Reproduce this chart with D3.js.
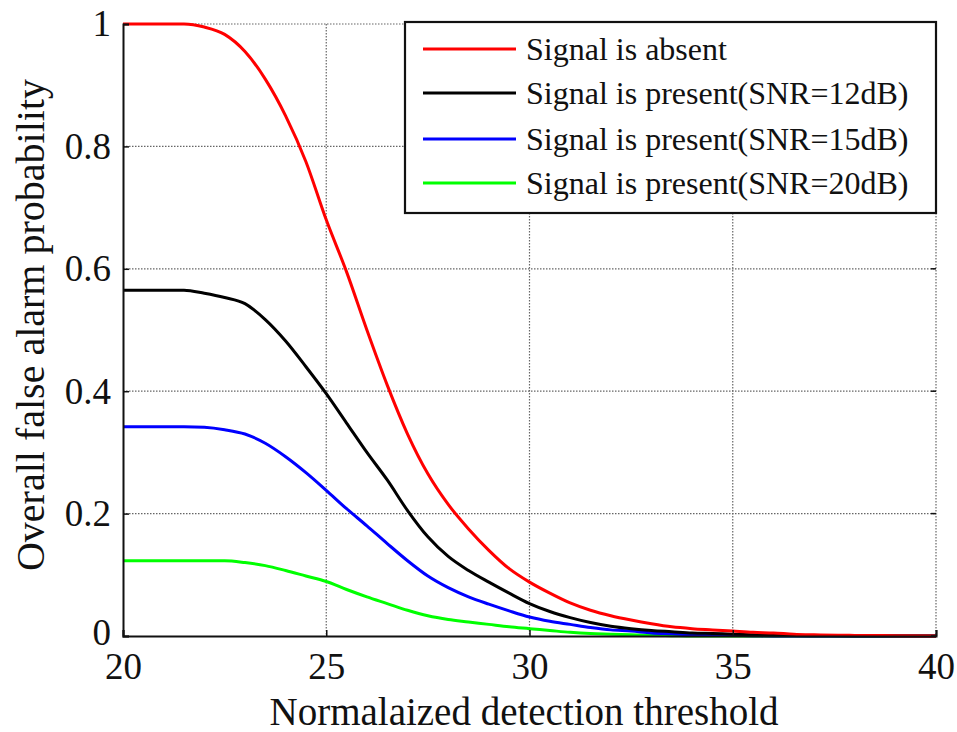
<!DOCTYPE html>
<html>
<head>
<meta charset="utf-8">
<script src="https://cdn.jsdelivr.net/npm/d3@7"></script>
<style>
  html, body { margin: 0; padding: 0; background: #fff; }
  svg { display: block; }
  text { font-family: "Liberation Serif", "Times New Roman", serif; fill: #111; }
</style>
</head>
<body>
<svg id="chart" width="957" height="732"></svg>
<script>
// ---- data ----
const thresholds = [20,20.5,21,21.5,22,22.5,23,23.5,24,24.5,25,25.5,26,26.5,27,27.5,28,28.5,29,29.5,30,30.5,31,31.5,32,32.5,33,33.5,34,34.5,35,35.5,36,36.5,37,38,39,40];
const absent = [1,1,1,1,0.995,0.983,0.955,0.91,0.85,0.775,0.68,0.595,0.5,0.41,0.33,0.265,0.215,0.175,0.14,0.11,0.088,0.07,0.054,0.042,0.033,0.026,0.02,0.015,0.012,0.01,0.008,0.006,0.005,0.003,0.002,0.001,0.0005,0];
const snr12 = [0.565,0.565,0.565,0.565,0.56,0.553,0.543,0.517,0.482,0.44,0.396,0.348,0.3,0.255,0.205,0.162,0.13,0.107,0.088,0.07,0.053,0.04,0.03,0.022,0.016,0.012,0.009,0.007,0.005,0.004,0.003,0.002,0.001,0.0007,0.0005,0,0,0];
const snr15 = [0.342,0.342,0.342,0.342,0.341,0.337,0.33,0.315,0.293,0.267,0.238,0.208,0.18,0.151,0.123,0.098,0.079,0.064,0.052,0.041,0.031,0.024,0.019,0.014,0.01,0.008,0.005,0.0035,0.002,0.0015,0.001,0.0005,0,0,0,0,0,0];
const snr20 = [0.123,0.123,0.123,0.123,0.123,0.123,0.12,0.115,0.107,0.098,0.089,0.076,0.064,0.053,0.042,0.033,0.027,0.023,0.019,0.015,0.012,0.009,0.006,0.004,0.003,0.002,0.001,0.0005,0,0,0,0,0,0,0,0,0,0];
const seriesNames = ["Signal is absent","Signal is present(SNR=12dB)","Signal is present(SNR=15dB)","Signal is present(SNR=20dB)"];
const seriesColors = ["#ff0000","#000000","#0000ff","#00ff00"];
const xTicks = [20,25,30,35,40];
const yTicks = [0,0.2,0.4,0.6,0.8,1];
const yTickLabels = ["0","0.2","0.4","0.6","0.8","1"];
const xLabel = "Normalaized detection threshold";
const yLabel = "Overall false alarm probability";

// ---- layout ----
const L = 123, R = 936, T = 24, B = 636;
const svg = d3.select("#chart");
const x = d3.scaleLinear().domain([20,40]).range([L,R]);
const y = d3.scaleLinear().domain([0,1]).range([B,T]);

// grid
const grid = svg.append("g");
grid.selectAll("line.gx").data(xTicks.slice(1)).join("line")
  .attr("x1", d => x(d)).attr("x2", d => x(d)).attr("y1", T).attr("y2", B)
  .attr("stroke", "#666").attr("stroke-width", 1.2).attr("stroke-dasharray", "1.5,1.5");
grid.selectAll("line.gy").data(yTicks.slice(1)).join("line")
  .attr("x1", L).attr("x2", R).attr("y1", d => y(d)).attr("y2", d => y(d))
  .attr("stroke", "#666").attr("stroke-width", 1.2).attr("stroke-dasharray", "1.5,1.5");

// series
const data = [absent, snr12, snr15, snr20];
const line = d3.line().curve(d3.curveMonotoneX).x((d,i) => x(thresholds[i])).y(d => y(d));
[3,2,1,0].forEach(k => {
  svg.append("path").datum(data[k]).attr("d", line)
    .attr("fill","none").attr("stroke", seriesColors[k]).attr("stroke-width", 3)
    .attr("stroke-linejoin","round");
});

// axes
const xAxis = d3.axisBottom(x).tickValues(xTicks).tickSize(-6).tickPadding(16).tickFormat(d3.format("d"));
const gx = svg.append("g").attr("transform", `translate(0,${B})`).call(xAxis);
gx.select(".domain").attr("stroke","#111").attr("stroke-width",2);
gx.selectAll(".tick line").attr("stroke","#111").attr("stroke-width",1.5);
gx.selectAll(".tick text").attr("font-size", 37).attr("font-family","Liberation Serif").attr("fill","#111").attr("dy","0.72em");

const yAxis = d3.axisLeft(y).tickValues(yTicks).tickSize(-6).tickPadding(12).tickFormat((d,i) => yTickLabels[i]);
const gy = svg.append("g").attr("transform", `translate(${L},0)`).call(yAxis);
gy.select(".domain").attr("stroke","#111").attr("stroke-width",2);
gy.selectAll(".tick line").attr("stroke","#111").attr("stroke-width",1.5);
gy.selectAll(".tick text").attr("font-size", 37).attr("font-family","Liberation Serif").attr("fill","#111");
gy.selectAll(".tick text").filter(d => d === 0).attr("dy","0.22em");

// right-side small ticks
svg.append("g").selectAll("line").data(yTicks).join("line")
  .attr("x1", R-5).attr("x2", R).attr("y1", d => y(d)).attr("y2", d => y(d))
  .attr("stroke","#111").attr("stroke-width",1.5);

// axis labels
svg.append("text").attr("x", 524).attr("y", 725).attr("text-anchor","middle")
  .attr("font-size", 39).text(xLabel);
svg.append("text").attr("transform", `translate(44,325) rotate(-90)`).attr("text-anchor","middle")
  .attr("font-size", 40).text(yLabel);

// legend
const lg = svg.append("g");
lg.append("rect").attr("x", 405).attr("y", 22).attr("width", 936-405).attr("height", 213-22)
  .attr("fill","#fff").attr("stroke","#111").attr("stroke-width",2.2);
const legendY = [49, 93, 139, 183];
seriesNames.forEach((name, i) => {
  lg.append("line").attr("x1", 423).attr("x2", 516).attr("y1", legendY[i]).attr("y2", legendY[i])
    .attr("stroke", seriesColors[i]).attr("stroke-width", 3);
  lg.append("text").attr("x", 526).attr("y", legendY[i]).attr("dy","0.35em")
    .attr("font-size", 32).text(name);
});
</script>
</body>
</html>
